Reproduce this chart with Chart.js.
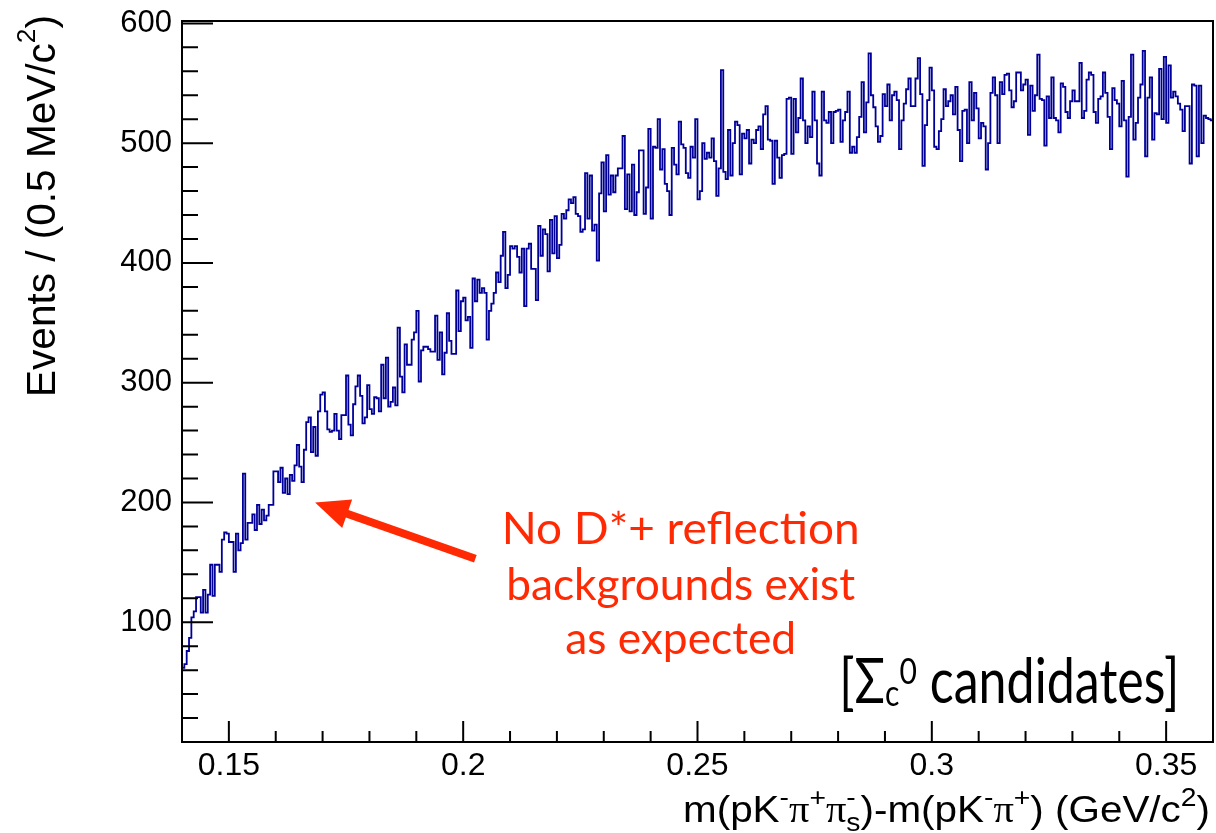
<!DOCTYPE html>
<html lang="en">
<head>
<meta charset="utf-8">
<title>Sigma_c0 candidates</title>
<script src="https://cdn.jsdelivr.net/npm/chart.js@4.4.1/dist/chart.umd.min.js"></script>
<style>
  html, body { margin: 0; background: #fff; }
  canvas { display: block; }
</style>
</head>
<body>
<canvas id="histo" width="1216" height="833"></canvas>
<script>
// 0.5 MeV/c^2 bins, first bin starts at 0.14 GeV/c^2
const binLow = 0.14;
const binWidth = 0.0005;
const counts = [
  62, 65, 76, 87, 104, 109, 121, 121, 108, 127,
  108, 123, 148, 122, 148, 148, 142, 169, 175, 174,
  167, 167, 142, 174, 160, 166, 224, 169, 183, 183,
  190, 177, 198, 182, 194, 185, 189, 198, 198, 226,
  226, 217, 229, 208, 220, 207, 223, 218, 231, 248,
  230, 217, 244, 267, 271, 242, 263, 239, 276, 290,
  292, 276, 261, 259, 260, 274, 260, 253, 273, 273,
  306, 265, 256, 282, 297, 306, 289, 266, 271, 298,
  278, 274, 288, 287, 276, 315, 287, 321, 280, 284,
  296, 281, 346, 305, 292, 332, 315, 315, 336, 342,
  360, 301, 327, 330, 330, 328, 326, 326, 356, 319,
  342, 307, 325, 358, 335, 324, 324, 377, 343, 368,
  371, 352, 355, 329, 387, 368, 386, 375, 379, 375,
  336, 360, 366, 375, 392, 384, 406, 426, 379, 390,
  414, 412, 414, 405, 392, 412, 364, 412, 416, 395,
  395, 369, 431, 406, 428, 424, 393, 436, 408, 439,
  404, 415, 441, 437, 444, 453, 450, 455, 441, 439,
  426, 428, 475, 437, 473, 427, 432, 402, 458, 484,
  443, 490, 457, 473, 459, 473, 479, 479, 506, 445,
  474, 443, 482, 440, 459, 494, 494, 441, 463, 512,
  437, 497, 496, 520, 478, 495, 466, 460, 440, 496,
  482, 474, 518, 499, 496, 475, 471, 497, 488, 520,
  453, 460, 500, 487, 492, 488, 504, 485, 456, 479,
  561, 476, 470, 511, 473, 500, 518, 515, 474, 508,
  504, 511, 483, 503, 500, 511, 514, 495, 524, 531,
  503, 502, 466, 502, 488, 471, 490, 491, 537, 538,
  491, 537, 509, 521, 554, 519, 500, 514, 505, 543,
  519, 483, 473, 543, 519, 517, 526, 500, 526, 527,
  528, 501, 519, 526, 543, 492, 497, 492, 505, 522,
  551, 509, 534, 575, 540, 530, 514, 501, 506, 541,
  531, 549, 519, 540, 543, 536, 495, 519, 533, 545,
  554, 531, 531, 554, 571, 541, 481, 515, 536, 563,
  544, 497, 495, 510, 520, 545, 531, 535, 540, 524,
  547, 511, 485, 527, 528, 500, 551, 519, 542, 529,
  504, 517, 514, 478, 500, 542, 555, 540, 500, 551,
  541, 557, 558, 544, 530, 535, 559, 559, 544, 549,
  553, 507, 548, 527, 540, 574, 537, 536, 498, 539,
  521, 555, 521, 519, 509, 550, 547, 526, 521, 535,
  544, 535, 535, 567, 521, 527, 553, 559, 557, 526,
  517, 537, 539, 559, 542, 522, 495, 546, 536, 533,
  514, 552, 519, 472, 522, 574, 503, 517, 538, 549,
  577, 489, 538, 555, 503, 525, 524, 562, 520, 572,
  517, 565, 538, 543, 539, 533, 528, 510, 531, 531,
  483, 549, 548, 489, 548, 500, 523, 521, 520, 519,
];

const xLimits = [0.14, 0.36];
const yLimits = [0, 602];
const xTickStep = 0.01;
const yTickStep = 20;
const xLabelEvery = 0.05;
const yLabelEvery = 100;

const noteLines = ["No D*+ reflection", "backgrounds exist", "as expected"];

// annotation anchors, in data coordinates
const arrowTail = { x: 0.2026, y: 153 };
const arrowTip = { x: 0.1684, y: 200 };
const noteCenterX = 0.2464;
const noteBaselines = [165, 118.5, 73.5];
const noteWidths = [358, 349, 231];
const tagRightX = 0.3528;
const tagBaseline = 32.8;

const SANS = "'Liberation Sans', Arial, sans-serif";
const SERIF = "'Liberation Serif', 'Times New Roman', serif";
const HUMANIST = "Lato, 'Open Sans', sans-serif";
const RED = "#ff2a04";
const HIST_BLUE = "#000099";

function histPoints() {
  const pts = counts.map((c, i) => ({ x: binLow + i * binWidth, y: c }));
  // upper edge of the last bin closes the final step
  pts.push({ x: binLow + counts.length * binWidth, y: counts[counts.length - 1] });
  return pts;
}

function isMultiple(value, step) {
  const r = value / step;
  return Math.abs(r - Math.round(r)) < 1e-6;
}

// draws a row of text pieces (sub/superscripts, mixed fonts) on one baseline
function richText(ctx, parts, o) {
  ctx.save();
  ctx.translate(o.x, o.y);
  if (o.rotate) ctx.rotate(o.rotate);
  let w = 0;
  const laid = parts.map((p) => {
    const font = `${o.size * (p.s || 1)}px ${p.f || o.family}`;
    ctx.font = font;
    const item = { p, x: w, font };
    if (p.adv !== false) w += ctx.measureText(p.t).width;
    return item;
  });
  const sx = o.width ? o.width / w : 1;
  const start = o.align === "right" ? -w : o.align === "center" ? -w / 2 : 0;
  ctx.scale(sx, 1);
  ctx.fillStyle = o.color || "#000";
  ctx.textBaseline = "alphabetic";
  ctx.textAlign = "left";
  laid.forEach((it) => {
    ctx.font = it.font;
    ctx.fillText(it.p.t, start + it.x, (it.p.dy || 0) * o.size);
  });
  ctx.restore();
}

function drawArrow(ctx, from, to, color) {
  const dx = to.x - from.x;
  const dy = to.y - from.y;
  const len = Math.hypot(dx, dy);
  const ux = dx / len, uy = dy / len;
  const nx = -uy, ny = ux;
  const headLen = 34, headHalf = 15, shaftHalf = 4;
  const bx = to.x - ux * headLen, by = to.y - uy * headLen;
  ctx.save();
  ctx.fillStyle = color;
  ctx.beginPath();
  ctx.moveTo(from.x + nx * shaftHalf, from.y + ny * shaftHalf);
  ctx.lineTo(bx + nx * shaftHalf, by + ny * shaftHalf);
  ctx.lineTo(bx + nx * headHalf, by + ny * headHalf);
  ctx.lineTo(to.x, to.y);
  ctx.lineTo(bx - nx * headHalf, by - ny * headHalf);
  ctx.lineTo(bx - nx * shaftHalf, by - ny * shaftHalf);
  ctx.lineTo(from.x - nx * shaftHalf, from.y - ny * shaftHalf);
  ctx.closePath();
  ctx.fill();
  ctx.restore();
}

// ROOT style frame: full box, ticks pointing inwards
const rootFrame = {
  id: "rootFrame",
  afterDatasetsDraw(chart) {
    const { ctx, chartArea: a, scales: { x, y } } = chart;
    ctx.save();
    ctx.strokeStyle = "#000";
    ctx.lineWidth = 2;
    ctx.beginPath();
    x.ticks.forEach((t) => {
      if (!isMultiple(t.value, xTickStep) || t.value <= x.min || t.value >= x.max) return;
      const px = x.getPixelForValue(t.value);
      const len = isMultiple(t.value, xLabelEvery) ? 21 : 11;
      ctx.moveTo(px, a.bottom);
      ctx.lineTo(px, a.bottom - len);
    });
    y.ticks.forEach((t) => {
      if (!isMultiple(t.value, yTickStep) || t.value <= y.min || t.value >= y.max) return;
      const py = y.getPixelForValue(t.value);
      const len = isMultiple(t.value, yLabelEvery) ? 31 : 16;
      ctx.moveTo(a.left, py);
      ctx.lineTo(a.left + len, py);
    });
    ctx.stroke();
    ctx.strokeRect(a.left, a.top, a.right - a.left, a.bottom - a.top);
    ctx.restore();
  },
};

const annotations = {
  id: "annotations",
  afterDraw(chart) {
    const { ctx, chartArea: a, scales: { x, y } } = chart;

    richText(ctx, [
      { t: "Events / (0.5 MeV/c" },
      { t: "2", s: 0.65, dy: -0.5 },
      { t: ")" },
    ], { x: 55, y: a.top - 6, rotate: -Math.PI / 2, align: "right", size: 41, family: SANS, width: 382 });

    const sup = { s: 0.7, dy: -0.42 };
    richText(ctx, [
      { t: "m(pK" },
      { t: "-", ...sup },
      { t: "\u03c0", f: SERIF },
      { t: "+", ...sup },
      { t: "\u03c0", f: SERIF },
      { t: "-", ...sup, adv: false },
      { t: "s", s: 0.7, dy: 0.25 },
      { t: ")-m(pK" },
      { t: "-", ...sup },
      { t: "\u03c0", f: SERIF },
      { t: "+", ...sup },
      { t: ") (GeV/c" },
      { t: "2", ...sup },
      { t: ")" },
    ], { x: a.right - 3, y: a.bottom + 80, align: "right", size: 37, family: SANS, width: 527 });

    drawArrow(ctx,
      { x: x.getPixelForValue(arrowTail.x), y: y.getPixelForValue(arrowTail.y) },
      { x: x.getPixelForValue(arrowTip.x), y: y.getPixelForValue(arrowTip.y) },
      RED);

    noteLines.forEach((line, i) => {
      richText(ctx, [{ t: line }], {
        x: x.getPixelForValue(noteCenterX), y: y.getPixelForValue(noteBaselines[i]),
        align: "center", size: 44, family: HUMANIST, color: RED, width: noteWidths[i],
      });
    });

    richText(ctx, [
      { t: "[" },
      { t: "\u03a3" },
      { t: "c", s: 0.6, dy: 0.05 },
      { t: "0", s: 0.6, dy: -0.3 },
      { t: " candidates]" },
    ], { x: x.getPixelForValue(tagRightX), y: y.getPixelForValue(tagBaseline), align: "right", size: 62, family: HUMANIST, width: 340 });
  },
};

new Chart(document.getElementById("histo"), {
  type: "line",
  data: {
    datasets: [{
      data: histPoints(),
      stepped: "before",
      borderColor: HIST_BLUE,
      borderWidth: 1.8,
      pointRadius: 0,
      fill: false,
    }],
  },
  options: {
    responsive: false,
    animation: false,
    devicePixelRatio: 1,
    layout: { padding: { top: 21, right: 3, left: 0, bottom: 0 } },
    plugins: { legend: { display: false }, tooltip: { enabled: false } },
    scales: {
      x: {
        type: "linear",
        min: xLimits[0],
        max: xLimits[1],
        afterFit: (s) => {
          s.height = 91;
          s.paddingLeft = 0;
          s.paddingRight = 0;
        },
        grid: { display: false, drawTicks: false },
        border: { display: false },
        ticks: {
          stepSize: xTickStep,
          includeBounds: false,
          autoSkip: false,
          maxRotation: 0,
          padding: 5,
          color: "#000",
          font: { family: SANS, size: 32 },
          callback: (v) => (isMultiple(v, xLabelEvery) ? String(+v.toFixed(2)) : ""),
        },
      },
      y: {
        min: yLimits[0],
        max: yLimits[1],
        afterFit: (s) => {
          s.width = 182;
          s.paddingTop = 0;
          s.paddingBottom = 0;
        },
        grid: { display: false, drawTicks: false },
        border: { display: false },
        ticks: {
          stepSize: yTickStep,
          includeBounds: false,
          autoSkip: false,
          padding: 10,
          color: "#000",
          font: { family: SANS, size: 31 },
          callback: (v) => (v > 0 && isMultiple(v, yLabelEvery) ? String(v) : ""),
        },
      },
    },
  },
  plugins: [rootFrame, annotations],
});
</script>
</body>
</html>
